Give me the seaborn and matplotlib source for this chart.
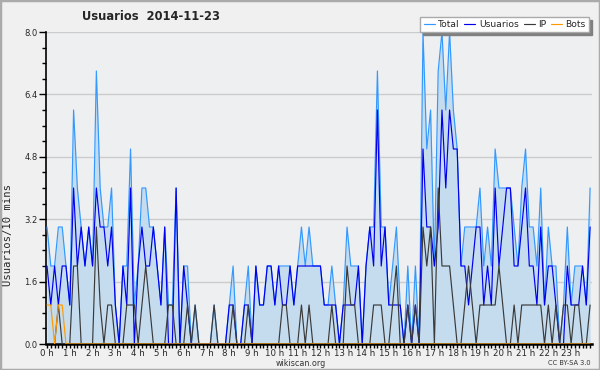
import matplotlib

matplotlib.use("Agg")

import matplotlib.pyplot as plt
import numpy as np
import pandas as pd
import seaborn as sns
from matplotlib.patches import Rectangle
from matplotlib.ticker import MultipleLocator

TITLE = "Usuarios  2014-11-23"
SERIES = ["Total", "Usuarios", "IP", "Bots"]
HOUR_LABELS = [f"{h} h" for h in range(24)]
Y_TICKS = [0.0, 1.6, 3.2, 4.8, 6.4, 8.0]

# editores por bloque de 10 minutos (144 bloques)
total = [
    3, 2, 2, 3, 3, 2, 1, 6, 4, 3,
    2, 3, 2, 7, 4, 3, 3, 4, 1, 0,
    2, 2, 5, 1, 2, 4, 4, 3, 3, 2,
    1, 3, 1, 1, 4, 0, 2, 2, 0, 1,
    0, 0, 0, 0, 1, 0, 0, 0, 1, 2,
    0, 0, 1, 2, 0, 2, 1, 1, 2, 2,
    1, 2, 2, 2, 2, 1, 2, 3, 2, 3,
    2, 2, 2, 1, 1, 2, 1, 0, 1, 3,
    2, 2, 2, 0, 2, 3, 3, 7, 3, 3,
    1, 2, 3, 1, 0, 2, 0, 2, 0, 8,
    5, 6, 2, 7, 8, 6, 8, 6, 5, 2,
    3, 3, 3, 3, 4, 2, 3, 2, 5, 4,
    4, 4, 4, 3, 2, 4, 5, 3, 3, 2,
    4, 1, 3, 2, 2, 0, 1, 3, 1, 2,
    2, 2, 1, 4,
]
usuarios = [
    2, 1, 2, 1, 2, 2, 1, 4, 2, 3,
    2, 3, 2, 4, 3, 3, 2, 3, 1, 0,
    2, 1, 4, 0, 2, 3, 2, 2, 3, 2,
    1, 3, 0, 0, 4, 0, 2, 1, 0, 0,
    0, 0, 0, 0, 0, 0, 0, 0, 1, 1,
    0, 0, 1, 1, 0, 2, 1, 1, 2, 2,
    1, 2, 1, 1, 2, 1, 2, 2, 2, 2,
    2, 2, 2, 1, 1, 1, 1, 0, 1, 1,
    1, 1, 2, 0, 2, 3, 2, 6, 2, 3,
    1, 1, 1, 1, 0, 1, 0, 1, 0, 5,
    3, 3, 2, 3, 6, 4, 6, 5, 5, 2,
    2, 1, 2, 3, 3, 1, 2, 1, 4, 2,
    3, 4, 4, 2, 2, 3, 4, 2, 2, 1,
    3, 1, 2, 2, 1, 0, 0, 2, 1, 1,
    1, 2, 1, 3,
]
ip = [
    0, 0, 0, 1, 0, 0, 0, 2, 2, 0,
    0, 0, 0, 3, 1, 0, 1, 1, 0, 0,
    0, 1, 1, 1, 0, 1, 2, 1, 0, 0,
    0, 0, 1, 1, 0, 0, 0, 1, 0, 1,
    0, 0, 0, 0, 1, 0, 0, 0, 0, 1,
    0, 0, 0, 1, 0, 0, 0, 0, 0, 0,
    0, 0, 1, 1, 0, 0, 0, 1, 0, 1,
    0, 0, 0, 0, 0, 1, 0, 0, 0, 2,
    1, 1, 0, 0, 0, 0, 1, 1, 1, 0,
    0, 1, 2, 0, 0, 1, 0, 1, 0, 3,
    2, 3, 0, 4, 2, 2, 2, 1, 0, 0,
    1, 2, 1, 0, 1, 1, 1, 1, 1, 2,
    1, 0, 0, 1, 0, 1, 1, 1, 1, 1,
    1, 0, 1, 0, 1, 0, 1, 1, 0, 1,
    1, 0, 0, 1,
]
bots = [1, 1, 0, 1, 1, 0] + [0] * 138

COLORS = {"Total": "#3399ff", "Usuarios": "#0000ee", "IP": "#3a3a3a", "Bots": "#ff9900"}
FILL = "#c5dcef"


def main() -> None:
    slots = np.arange(len(total))
    frame = pd.DataFrame({"slot": slots, "Total": total, "Usuarios": usuarios, "IP": ip, "Bots": bots})
    long = frame.melt(id_vars="slot", var_name="serie", value_name="valor")

    sns.set_theme(style="white")
    plt.rcParams["font.family"] = ["DejaVu Sans"]

    fig = plt.figure(figsize=(6, 3.7), dpi=100, facecolor="#f0f0f0")
    ax = fig.add_axes([46 / 600, 26 / 370, 546 / 600, 312 / 370])
    ax.set_facecolor("#eeeff1")

    ax.fill_between(frame["slot"], frame["Total"], color=FILL, lw=0, zorder=1)
    sns.lineplot(
        data=long, x="slot", y="valor", hue="serie", hue_order=SERIES,
        palette=COLORS, linewidth=0.85, errorbar=None, ax=ax, zorder=3,
    )

    ax.set_xlim(-0.26, 143.5)
    ax.set_ylim(0, 8)
    ax.set_xlabel("")
    ax.set_ylabel("")

    ax.set_xticks(range(0, 144, 6))
    ax.set_xticklabels(HOUR_LABELS)
    ax.set_xticks(slots, minor=True)
    ax.set_yticks(Y_TICKS)
    ax.set_yticklabels([f"{v:.1f}" for v in Y_TICKS])
    ax.yaxis.set_minor_locator(MultipleLocator(0.4))

    ax.tick_params(axis="x", which="both", direction="out", length=3, width=1, color="black",
                   pad=0.5, labelsize=6.2, bottom=True)
    ax.tick_params(axis="y", which="major", direction="out", length=5, width=1, color="black",
                   pad=1, labelsize=6, left=True)
    ax.tick_params(axis="y", which="minor", direction="out", length=3, width=1, color="black", left=True)

    ax.yaxis.grid(True, color="#cccccc", lw=1)
    ax.xaxis.grid(False)
    ax.set_axisbelow(True)
    for side in ("top", "right"):
        ax.spines[side].set_visible(False)
    ax.spines["left"].set_color("black")
    ax.spines["left"].set_linewidth(1.2)
    ax.spines["bottom"].set_color("black")
    ax.spines["bottom"].set_linewidth(1.8)

    handles, labels = ax.get_legend_handles_labels()
    ax.legend(
        handles, labels, loc="upper right", bbox_to_anchor=(589 / 600, 353 / 370),
        bbox_transform=fig.transFigure, ncol=4, fontsize=6.6, frameon=True, fancybox=False,
        edgecolor="#aaaaaa", framealpha=1, handlelength=1.2, handletextpad=0.4,
        columnspacing=0.5, borderpad=0.35, borderaxespad=0,
        shadow={"color": "#808080", "alpha": 1},
    )

    fig.text(151 / 600, 1 - 16 / 370, TITLE, ha="center", va="center", fontsize=8.3, fontweight="bold")
    fig.text(8 / 600, 1 - 235 / 370, "Usuarios/10 mins", ha="center", va="center", rotation=90,
             fontsize=7.6, family="DejaVu Sans Mono")
    fig.text(301 / 600, 1 - 364 / 370, "wikiscan.org", ha="center", va="center", fontsize=5.8, color="#333333")
    fig.text(569 / 600, 1 - 363 / 370, "CC BY-SA 3.0", ha="center", va="center", fontsize=4.8, color="#333333")

    fig.patches.append(Rectangle((0, 0), 1, 1, transform=fig.transFigure, fill=False,
                                 edgecolor="#aaaaaa", lw=2.5))

    fig.savefig("out.png", dpi=100, facecolor=fig.get_facecolor())
    plt.close(fig)


if __name__ == "__main__":
    main()
